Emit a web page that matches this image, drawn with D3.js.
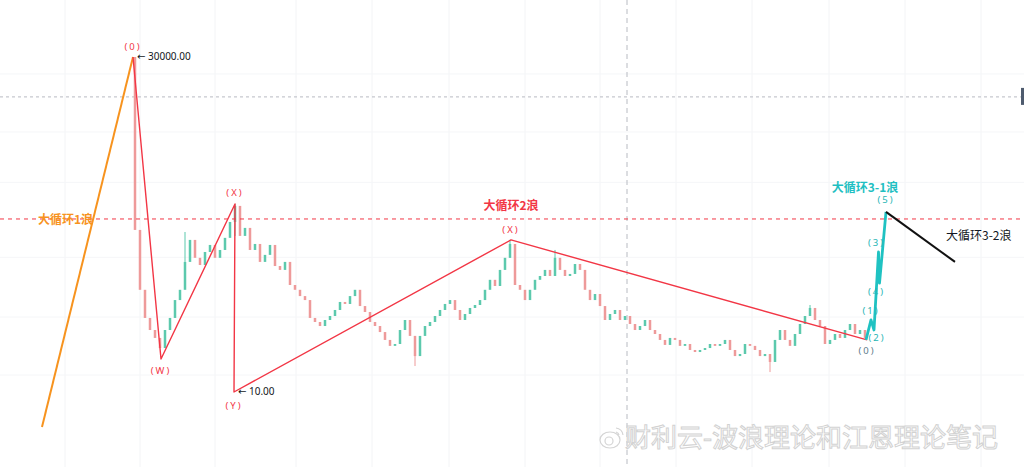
<!DOCTYPE html>
<html><head><meta charset="utf-8">
<script src="https://cdn.jsdelivr.net/npm/d3@7"></script>
<style>
html,body{margin:0;padding:0;background:#fff;}
svg{display:block;}
</style></head>
<body>
<svg id="c" width="1024" height="467"></svg>
<script>
// ---- data ----
const firstOpen = 30000;
const closes = [481,115,58.7,44,36.4,28.6,44,58.7,90,115,
224,379,247,208,284,336,247,298,398,582,
854,417,505,298,344,224,265,336,203,185,
224,129,115,99,90,58.7,53.3,48.4,55.9,61.5,
71,86,82,99,115,78,67.7,53.3,48.4,41.9,
34.7,30.1,31.5,44,55.9,38.2,23.6,38.2,48.4,53.3,
61.5,71,82,90,71,55.9,64.5,74.5,80,90,
115,146,126,185,247,344,129,115,90,115,
146,160,185,160,247,185,160,168,213,185,
115,90,104,78,55.9,64.5,71,55.9,61.5,50.8,
44,48.4,55.9,44,40,34.7,30.8,36.4,34.7,30.1,
31.5,27.3,26,27.3,28.6,31.5,30.1,31.5,34.7,27.3,
23.6,24.8,31.5,30.1,27.3,23.6,24.8,20.5,34.7,44,
34.7,30.1,40,50.8,61.5,74.5,55.9,48.4,31.5,34.7,
40,36.4,44,50.8,40,44,36.4];
// notable wicks: [bar index, high, low]
const wicks = [[10,458,224],[20,895,417],[56,38.2,18.6],[75,379,247],[84,298,160],[127,24.8,16.1],[135,80,61.5]];

// wave points: [bar index, price]
const wave1 = [[-18.6,4.33],[-0.4,30000]];
const wave2 = [[-0.4,30000],[5.2,22],[20,895],[19.8,10],[75.2,379],[146.4,34.7]];
const wave2Labels = [["(0)",-0.4,30000,-10],["(W)",5.2,22,12],["(X)",20,895,-11],["(Y)",19.8,10,14],["(X)",75.2,379,-9]];
const wave31 = [[146.2,34.7],[147.2,56],[147.8,44],[148.7,284],[148.9,135],[150.2,740]];
const wave31Labels = [["(0)",146.4,34.7,12,0,"#607d8b"],["(1)",147.2,56,-8,0,"#26b5b5"],["(2)",147.8,44,8,3,"#26b5b5"],["(3)",148.7,284,-9,-2,"#26b5b5"],["(4)",148.9,135,9,-3,"#26b5b5"],["(5)",150.2,740,-11,0,"#26b5b5"]];
const wave32 = [[150.2,740],[164,224]];
const keyLevel = 625;      // red dashed level
const upperLevel = 11560;  // grey dotted level
const cursorBar = 98.4;    // vertical dashed line
const priceTags = [["\u2190 30000.00",-0.4,30000],["\u2190 10.00",19.8,10]];
const gridX = [-14,1,16,32.2,47.4,62.8,78,93,108.2,123.4,138.8,154,169.2];
const gridY = [20000,5000,1500,250,60,15];

// ---- drawing ----
const W = 1024, H = 467;
const svg = d3.select("#c");
const x = d3.scaleLinear().domain([-27, 177.8]).range([0, W]);
const y = d3.scaleLog().domain([10, 30000]).range([392, 57]);

// grid
svg.append("g").selectAll("line").data(gridX).join("line")
  .attr("x1", d => x(d)).attr("x2", d => x(d)).attr("y1", 0).attr("y2", H)
  .attr("stroke", "#f3f4f6").attr("stroke-width", 1);
svg.append("g").selectAll("line").data(gridY).join("line")
  .attr("x1", 0).attr("x2", W).attr("y1", d => y(d)).attr("y2", d => y(d))
  .attr("stroke", "#f5f6f8").attr("stroke-width", 1);

// cross-hair lines
svg.append("line").attr("x1", x(cursorBar)).attr("x2", x(cursorBar)).attr("y1", 0).attr("y2", H)
  .attr("stroke", "#b8bbc2").attr("stroke-width", 1).attr("stroke-dasharray", "5,4");
svg.append("line").attr("x1", 0).attr("x2", W - 3).attr("y1", y(upperLevel)).attr("y2", y(upperLevel))
  .attr("stroke", "#b8bbc2").attr("stroke-width", 1).attr("stroke-dasharray", "3,3");
svg.append("rect").attr("x", W - 3).attr("y", y(upperLevel) - 9).attr("width", 3).attr("height", 17)
  .attr("fill", "#4e5b6e");

// candles
const candles = closes.map((c, i) => ({i, o: i === 0 ? firstOpen : closes[i - 1], c}));
const up = "#5cc9ad", down = "#ee9a9a";
const cg = svg.append("g");
cg.selectAll("line").data(wicks).join("line")
  .attr("x1", d => x(d[0])).attr("x2", d => x(d[0]))
  .attr("y1", d => y(d[1])).attr("y2", d => y(d[2]))
  .attr("stroke", d => candles[d[0]].c >= candles[d[0]].o ? up : down).attr("stroke-width", 1);
cg.selectAll("rect").data(candles).join("rect")
  .attr("x", d => x(d.i) - 1.25).attr("width", 2.5)
  .attr("y", d => Math.min(y(d.o), y(d.c)))
  .attr("height", d => Math.max(1, Math.abs(y(d.o) - y(d.c))))
  .attr("fill", d => d.c >= d.o ? up : down);

// key level dashed red
svg.append("line").attr("x1", 0).attr("x2", W).attr("y1", y(keyLevel)).attr("y2", y(keyLevel))
  .attr("stroke", "#f23645").attr("stroke-width", 1).attr("stroke-dasharray", "4,4");

const line = d3.line().x(d => x(d[0])).y(d => y(d[1]));
svg.append("path").attr("d", line(wave1)).attr("fill", "none").attr("stroke", "#f7931e").attr("stroke-width", 2);
svg.append("path").attr("d", line(wave2)).attr("fill", "none").attr("stroke", "#f23645").attr("stroke-width", 1.4).attr("stroke-linejoin", "round");
svg.append("path").attr("d", line(wave31)).attr("fill", "none").attr("stroke", "#1fc2c2").attr("stroke-width", 2.8).attr("stroke-linejoin", "round");
svg.append("path").attr("d", line(wave32)).attr("fill", "none").attr("stroke", "#111").attr("stroke-width", 2);

const font = "'Noto Sans', 'DejaVu Sans', sans-serif";
const cjk = "'Noto Sans CJK SC', sans-serif";

// wave labels
svg.append("g").selectAll("text").data(wave2Labels).join("text")
  .attr("x", d => x(d[1])).attr("y", d => y(d[2]) + d[3])
  .attr("text-anchor", "middle").attr("dominant-baseline", "middle")
  .attr("font-family", font).attr("font-size", 9.5).attr("letter-spacing", 2)
  .attr("fill", "#f23645").text(d => d[0]);
svg.append("g").selectAll("text").data(wave31Labels).join("text")
  .attr("x", d => x(d[1]) + d[4]).attr("y", d => y(d[2]) + d[3])
  .attr("text-anchor", "middle").attr("dominant-baseline", "middle")
  .attr("font-family", font).attr("font-size", 9.5).attr("letter-spacing", 2)
  .attr("fill", d => d[5]).text(d => d[0]);

// price tags
svg.append("g").selectAll("text").data(priceTags).join("text")
  .attr("x", d => x(d[1]) + 4).attr("y", d => y(d[2]))
  .attr("dominant-baseline", "middle")
  .attr("font-family", font).attr("font-size", 10).attr("fill", "#131722").text(d => d[0]);

// wave names
svg.append("text").attr("x", 38).attr("y", y(keyLevel) + 5)
  .attr("font-family", cjk).attr("font-weight", "bold").attr("font-size", 12)
  .attr("fill", "#f7931e").text("大循环1浪");
svg.append("text").attr("x", x(75.2)).attr("y", y(keyLevel) - 9).attr("text-anchor", "middle")
  .attr("font-family", cjk).attr("font-weight", "bold").attr("font-size", 12)
  .attr("fill", "#f23645").text("大循环2浪");
svg.append("text").attr("x", x(146)).attr("y", y(740) - 20).attr("text-anchor", "middle")
  .attr("font-family", cjk).attr("font-weight", "bold").attr("font-size", 12)
  .attr("fill", "#1fbfc2").text("大循环3-1浪");
svg.append("text").attr("x", x(162.2)).attr("y", y(740) + 28)
  .attr("font-family", cjk).attr("font-size", 12)
  .attr("fill", "#131722").text("大循环3-2浪");

// watermark
const wm = svg.append("g");
wm.append("ellipse").attr("cx", 610).attr("cy", 440).attr("rx", 10).attr("ry", 8)
  .attr("fill", "#fff").attr("stroke", "#d4d4d4").attr("stroke-width", 1.2);
wm.append("circle").attr("cx", 609).attr("cy", 441).attr("r", 4)
  .attr("fill", "none").attr("stroke", "#d4d4d4").attr("stroke-width", 1.2);
wm.append("path").attr("d", "M616 428 a8 8 0 0 1 7 7 M616 432 a4 4 0 0 1 3 3")
  .attr("fill", "none").attr("stroke", "#d4d4d4").attr("stroke-width", 1.2);
wm.append("text").attr("x", 625).attr("y", 447)
  .attr("font-family", cjk).attr("font-size", 26)
  .attr("fill", "#fff").attr("stroke", "#d2d2d2").attr("stroke-width", 1)
  .text("财利云-波浪理论和江恩理论笔记");
</script>
</body></html>
